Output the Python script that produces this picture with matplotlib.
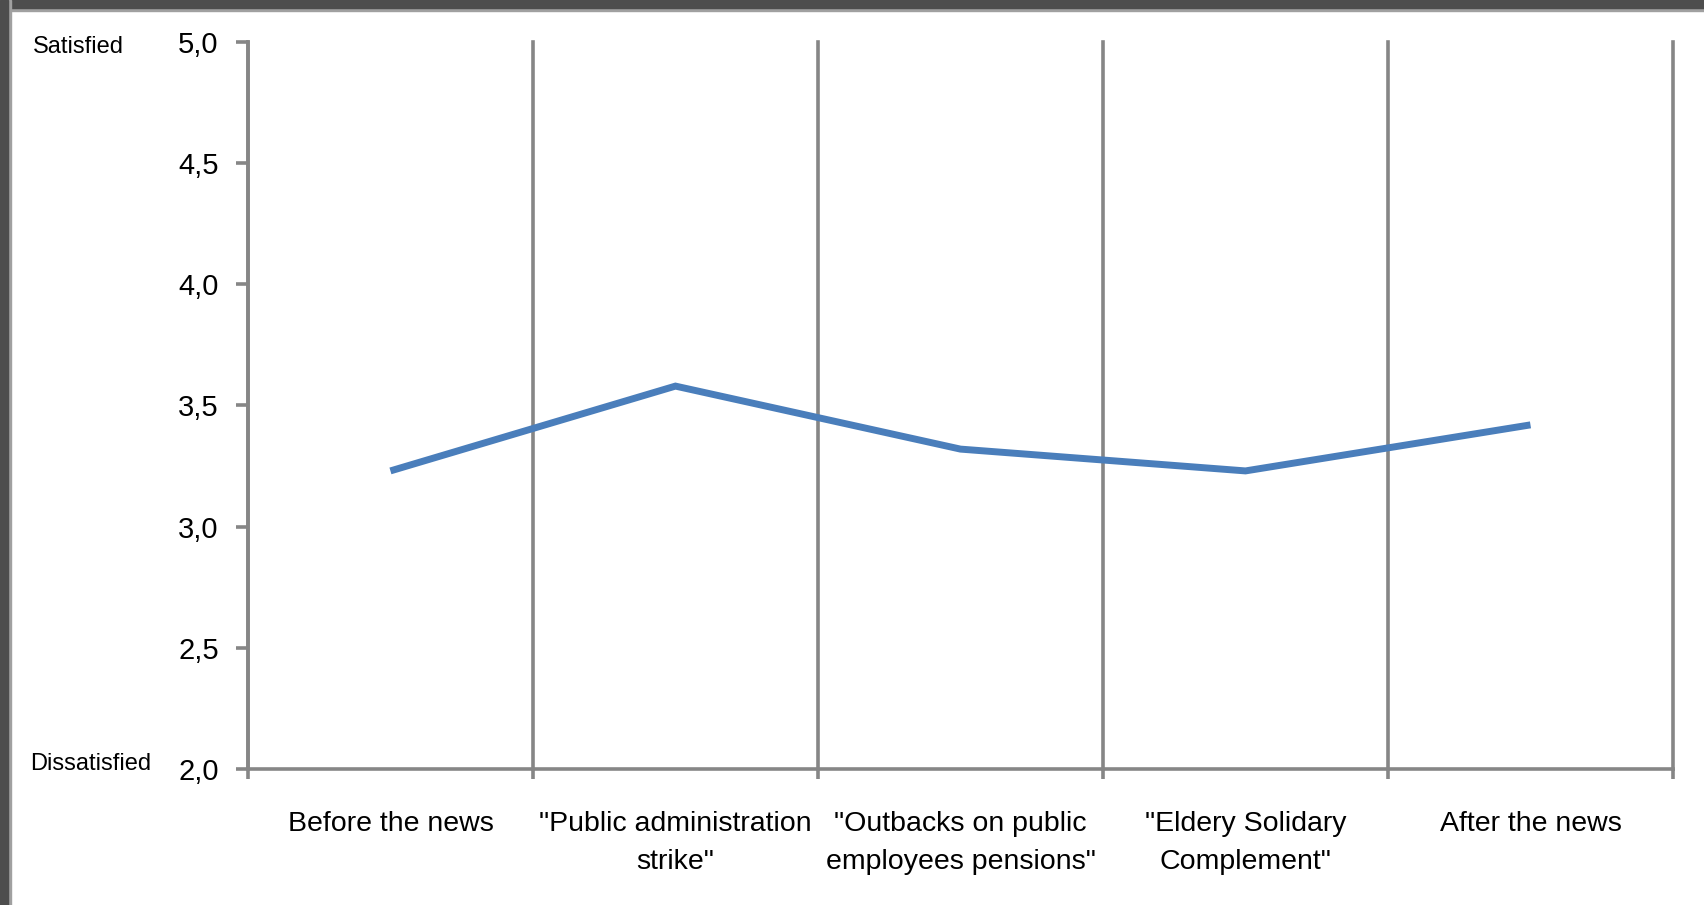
import matplotlib.pyplot as plt
from matplotlib.patches import Rectangle
from matplotlib.ticker import FixedLocator

plt.rcParams['font.family'] = ['Liberation Sans', 'DejaVu Sans']

# Data
categories = [
    'Before the news',
    '"Public administration\nstrike"',
    '"Outbacks on public\nemployees pensions"',
    '"Eldery Solidary\nComplement"',
    'After the news',
]
satisfaction = [3.23, 3.58, 3.32, 3.23, 3.42]
y_ticks = [2.0, 2.5, 3.0, 3.5, 4.0, 4.5, 5.0]

grey = '#868686'
blue = '#4a7ebb'

fig = plt.figure(figsize=(17.04, 9.05), dpi=100)
ax = fig.add_axes([0.1455, 0.1503, 0.8363, 0.8033])

x = list(range(len(categories)))
ax.plot(x, satisfaction, color=blue, linewidth=5,
        solid_capstyle='butt', solid_joinstyle='miter', zorder=3)

ax.set_xlim(-0.5, len(categories) - 0.5)
ax.set_ylim(2.0, 5.0)

# category labels in the middle, gridlines at the boundaries
ax.set_xticks(x)
ax.set_xticklabels(categories, fontsize=20.5, linespacing=1.6)
ax.tick_params(axis='x', which='major', length=0, pad=30)
ax.xaxis.set_minor_locator(FixedLocator([i - 0.5 for i in range(len(categories) + 1)]))
ax.tick_params(axis='x', which='minor', length=7, width=2.6, color=grey, direction='out')
ax.grid(True, axis='x', which='minor', color=grey, linewidth=2.6, zorder=1)
for tick in ax.xaxis.get_minor_ticks():
    tick.gridline.set_clip_on(False)

ax.set_yticks(y_ticks)
ax.set_yticklabels([f'{v:.1f}'.replace('.', ',') for v in y_ticks], fontsize=21)
ax.tick_params(axis='y', length=9, width=2.6, color=grey, direction='out', pad=12)

for side in ['top', 'right']:
    ax.spines[side].set_visible(False)
for side in ['left', 'bottom']:
    ax.spines[side].set_color(grey)
    ax.spines[side].set_linewidth(2.6)

fig.text(33 / 1704, 1 - 47 / 905, 'Satisfied', fontsize=17, ha='left', va='center')
fig.text(30 / 1704, 1 - 764 / 905, 'Dissatisfied', fontsize=17, ha='left', va='center')

# frame on top and left edge
fig.patches.append(Rectangle((0, 1 - 11 / 905), 1, 11 / 905, transform=fig.transFigure,
                             color='#a0a0a0', zorder=0))
fig.patches.append(Rectangle((0, 1 - 8 / 905), 1, 8 / 905, transform=fig.transFigure,
                             color='#4d4d4d', zorder=0))
fig.patches.append(Rectangle((0, 0), 11 / 1704, 1, transform=fig.transFigure,
                             color='#a0a0a0', zorder=0))
fig.patches.append(Rectangle((0, 0), 8 / 1704, 1, transform=fig.transFigure,
                             color='#4d4d4d', zorder=0))

fig.savefig('out.png', dpi=100)
